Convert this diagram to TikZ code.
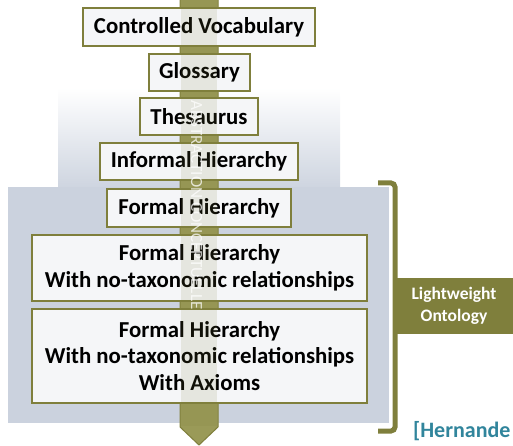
\documentclass[tikz,border=0pt]{standalone}
\usepackage{fontspec}
\setmainfont{Carlito}
\definecolor{olive}{HTML}{7F7F3C}
\definecolor{shaftfill}{HTML}{9A9A58}
\definecolor{boxfill}{HTML}{F5F6F8}
\definecolor{bgblue}{HTML}{CBD2DE}
\definecolor{teal}{HTML}{31859C}
\begin{document}
\begin{tikzpicture}[x=1pt,y=-1pt,
  lvl/.style={draw=olive, line width=1.4pt, fill=boxfill, inner sep=0pt, align=center,
    font=\fontsize{22.8}{26.5}\selectfont\bfseries},
  tag/.style={fill=olive, inner sep=0pt, align=center, text=white,
    font=\fontsize{17.5}{22}\selectfont\bfseries}]
\useasboundingbox (0,0) rectangle (513,446);
% backgrounds
\shade[top color=white, bottom color=bgblue!95!white] (58,88) rectangle (340,188);
\fill[bgblue] (8,187) rectangle (389,423);
% arrow shaft
\filldraw[fill=shaftfill, draw=olive, line width=1pt]
  (180,-2) -- (218,-2) -- (218,427) -- (199,445) -- (180,427) -- cycle;
% boxes
\node[lvl, minimum width=232pt, minimum height=38pt] (cv) at (199,27) {Controlled Vocabulary};
\node[lvl, minimum width=101pt, minimum height=37pt] (gl) at (199.5,72.5) {Glossary};
\node[lvl, minimum width=118pt, minimum height=37pt] (th) at (199,116.5) {Thesaurus};
\node[lvl, minimum width=198pt, minimum height=37pt] (ih) at (199,161.5) {Informal Hierarchy};
\node[lvl, minimum width=184pt, minimum height=38pt] (fh) at (199,208) {Formal Hierarchy};
\node[lvl, minimum width=335pt, minimum height=66pt] (fh2) at (199.5,268) {Formal Hierarchy\\With no-taxonomic relationships};
\node[lvl, minimum width=335pt, minimum height=94pt] (fh3) at (199.5,356) {Formal Hierarchy\\With no-taxonomic relationships\\With Axioms};
% pale overlay of the arrow
\fill[olive, opacity=0.13] (181,0) rectangle (217,426);
\node[rotate=-90, text=white, opacity=0.75, inner sep=0pt,
  font=\fontsize{17}{20}\selectfont] (abs) at (196.5,205) {ABSTRACTION CONCEPTUELLE};
% bracket
\coordinate (bt) at (378,183);
\coordinate (bb) at (378,431);
\draw[olive, line width=5pt, rounded corners=4pt] (bt) -- (395,183) -- (395,431) -- (bb);
\node[tag, minimum width=118pt, minimum height=56pt] (lw) at (454,306) {Lightweight\\Ontology};
\node[anchor=base west, inner sep=0pt, text=teal,
  font=\fontsize{22}{26}\selectfont\bfseries] (ref) at (413,437) {[Hernande};
\end{tikzpicture}
\end{document}
